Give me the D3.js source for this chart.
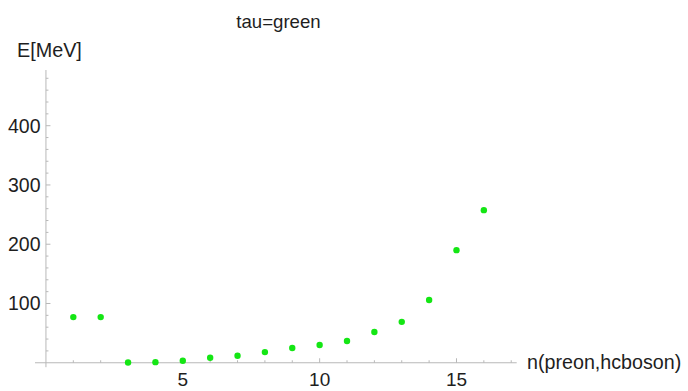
<!DOCTYPE html>
<html>
<head>
<meta charset="utf-8">
<script src="https://cdn.jsdelivr.net/npm/d3@7"></script>
<style>
  html, body { margin: 0; padding: 0; background: #fff; }
  svg { display: block; }
  text { font-family: "Liberation Sans", Arial, sans-serif; fill: #1e1e1e; }
</style>
</head>
<body>
<svg id="chart" width="688" height="391"></svg>
<script>
// Energy levels by composite index n
const nValues = [1, 2, 3, 4, 5, 6, 7, 8, 9, 10, 11, 12, 13, 14, 15, 16];
const energyMeV = [77, 77, 0.5, 1, 3.4, 8.4, 11.8, 18, 25, 30, 36.6, 52, 69, 106, 190, 257.5];

const xMajorTicks = [5, 10, 15];
const xMinorTicks = d3.range(1, 18);
const yMajorTicks = [100, 200, 300, 400];
const yMinorTicks = d3.range(20, 481, 20);

const titleText = "tau=green";
const yLabel = "E[MeV]";
const xLabel = "n(preon,hcboson)";

const svg = d3.select("#chart");
const axisColor = "#b8b8b8";
const pointColor = "#14e614";

// Scales: axes cross at the origin
const x = d3.scaleLinear().domain([-0.4, 17.2]).range([35, 516.7]);
const y = d3.scaleLinear().domain([-7.5, 494]).range([367.2, 70]);

const x0 = x(0), y0 = y(0);

// x axis line
svg.append("line")
  .attr("x1", x.range()[0]).attr("x2", x.range()[1])
  .attr("y1", y0).attr("y2", y0)
  .attr("stroke", axisColor).attr("stroke-width", 1);

// y axis line
svg.append("line")
  .attr("x1", x0).attr("x2", x0)
  .attr("y1", y.range()[0]).attr("y2", y.range()[1])
  .attr("stroke", axisColor).attr("stroke-width", 1);

// x ticks (pointing into the plot)
svg.append("g").selectAll("line").data(xMinorTicks).join("line")
  .attr("x1", d => x(d)).attr("x2", d => x(d))
  .attr("y1", y0).attr("y2", d => y0 - (xMajorTicks.includes(d) ? 4.5 : 2.5))
  .attr("stroke", axisColor).attr("stroke-width", 1);

// y ticks (pointing into the plot)
svg.append("g").selectAll("line").data(yMinorTicks).join("line")
  .attr("x1", x0).attr("x2", d => x0 + (yMajorTicks.includes(d) ? 4.5 : 2.5))
  .attr("y1", d => y(d)).attr("y2", d => y(d))
  .attr("stroke", axisColor).attr("stroke-width", 1);

// x tick labels
svg.append("g").selectAll("text").data(xMajorTicks).join("text")
  .attr("x", d => x(d)).attr("y", 386)
  .attr("text-anchor", "middle")
  .style("font-size", "19px")
  .text(d => d);

// y tick labels
svg.append("g").selectAll("text").data(yMajorTicks).join("text")
  .attr("x", 40.5).attr("y", d => y(d) + 6.8)
  .attr("text-anchor", "end")
  .style("font-size", "19.5px")
  .text(d => d);

// axis labels and title
svg.append("text").attr("x", 278.5).attr("y", 28)
  .attr("text-anchor", "middle").style("font-size", "18.6px").text(titleText);
svg.append("text").attr("x", 17).attr("y", 56.7)
  .style("font-size", "19.8px").text(yLabel);
svg.append("text").attr("x", 527).attr("y", y0 + 6.5)
  .style("font-size", "19.7px").text(xLabel);

// data points
svg.append("g").selectAll("circle").data(nValues).join("circle")
  .attr("cx", d => x(d))
  .attr("cy", (d, i) => y(energyMeV[i]))
  .attr("r", 3.2)
  .attr("fill", pointColor);
</script>
</body>
</html>
